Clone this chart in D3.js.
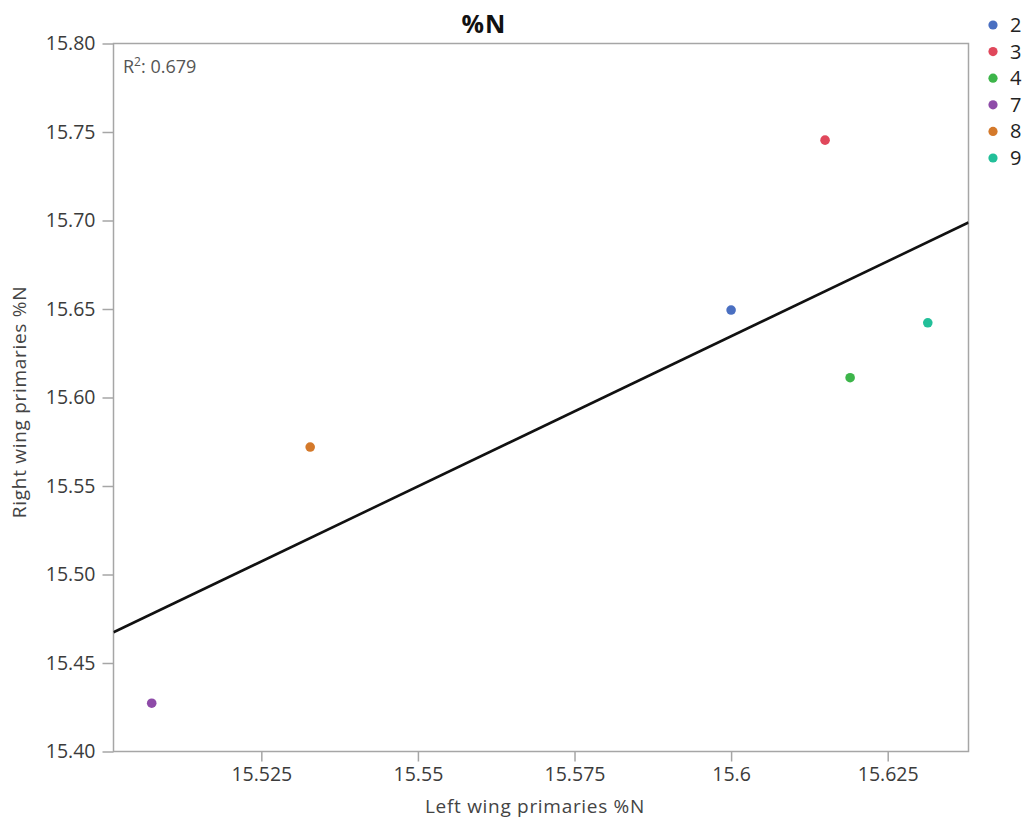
<!DOCTYPE html>
<html>
<head>
<meta charset="utf-8">
<script src="https://cdn.jsdelivr.net/npm/d3@7/dist/d3.min.js"></script>
<style>
  html, body { margin: 0; padding: 0; background: #fff; }
  svg { display: block; font-family: "Segoe UI", "Open Sans", "Noto Sans", sans-serif; }
</style>
</head>
<body>
<svg id="chart" width="1029" height="824"></svg>
<script>
// Bird IDs and paired %N measurements (left vs right wing primaries)
const birds = ["2", "3", "4", "7", "8", "9"];
const leftN = [15.600, 15.615, 15.619, 15.5075, 15.5328, 15.6314];
const rightN = [15.6494, 15.7454, 15.6112, 15.4273, 15.5720, 15.6422];
const birdColors = ["#4a6fc1", "#e0475b", "#3db54a", "#8e4ba8", "#d4792a", "#22bf99"];

const xTicks = [15.525, 15.55, 15.575, 15.6, 15.625];
const xTickLabels = ["15.525", "15.55", "15.575", "15.6", "15.625"];
const yTicks = [15.40, 15.45, 15.50, 15.55, 15.60, 15.65, 15.70, 15.75, 15.80];
const yTickLabels = ["15.40", "15.45", "15.50", "15.55", "15.60", "15.65", "15.70", "15.75", "15.80"];

const titleText = "%N";
const xTitle = "Left wing primaries %N";
const yTitle = "Right wing primaries %N";

const xDomain = [15.5014, 15.6379];
const yDomain = [15.40, 15.80];

const svg = d3.select("#chart");
const plot = { left: 113.5, right: 968.5, top: 43.5, bottom: 751.5 };

const x = d3.scaleLinear().domain(xDomain).range([plot.left, plot.right]);
const y = d3.scaleLinear().domain(yDomain).range([plot.bottom, plot.top]);
const color = d3.scaleOrdinal().domain(birds).range(birdColors);

const axisColor = "#a6a6a6";
const tickTextColor = "#3b3b3b";
const tickFont = 19.5;

// Plot frame
svg.append("rect")
  .attr("x", plot.left).attr("y", plot.top)
  .attr("width", plot.right - plot.left).attr("height", plot.bottom - plot.top)
  .attr("fill", "none").attr("stroke", axisColor).attr("stroke-width", 1.5);

// Y axis
const yAxis = svg.append("g")
  .attr("transform", `translate(${plot.left},0)`)
  .call(d3.axisLeft(y).tickValues(yTicks).tickSize(11).tickPadding(7)
    .tickFormat((d, i) => yTickLabels[i]));
yAxis.select(".domain").remove();
yAxis.selectAll(".tick line").attr("stroke", axisColor).attr("stroke-width", 1.5);
yAxis.selectAll(".tick text")
  .attr("fill", tickTextColor).attr("font-size", tickFont)
  .attr("font-family", "'Segoe UI', 'Open Sans', sans-serif");

// X axis
const xAxis = svg.append("g")
  .attr("transform", `translate(0,${plot.bottom})`)
  .call(d3.axisBottom(x).tickValues(xTicks).tickSize(10).tickPadding(6)
    .tickFormat((d, i) => xTickLabels[i]));
xAxis.select(".domain").remove();
xAxis.selectAll(".tick line").attr("stroke", axisColor).attr("stroke-width", 1.5);
xAxis.selectAll(".tick text")
  .attr("fill", tickTextColor).attr("font-size", tickFont)
  .attr("font-family", "'Segoe UI', 'Open Sans', sans-serif");

// Least-squares fit of right on left
const n = leftN.length;
const mx = d3.mean(leftN), my = d3.mean(rightN);
let sxy = 0, sxx = 0, syy = 0;
for (let i = 0; i < n; i++) {
  sxy += (leftN[i] - mx) * (rightN[i] - my);
  sxx += (leftN[i] - mx) ** 2;
  syy += (rightN[i] - my) ** 2;
}
const slope = sxy / sxx;
const intercept = my - slope * mx;
const r2 = (sxy * sxy) / (sxx * syy);

svg.append("defs").append("clipPath").attr("id", "plotClip")
  .append("rect")
  .attr("x", plot.left).attr("y", plot.top)
  .attr("width", plot.right - plot.left).attr("height", plot.bottom - plot.top);

const fitLine = d3.line().x(d => x(d)).y(d => y(intercept + slope * d));
svg.append("path")
  .datum(xDomain)
  .attr("d", fitLine)
  .attr("clip-path", "url(#plotClip)")
  .attr("fill", "none").attr("stroke", "#111").attr("stroke-width", 2.6);

// Points
svg.append("g").selectAll("circle")
  .data(birds)
  .join("circle")
  .attr("cx", (d, i) => x(leftN[i]))
  .attr("cy", (d, i) => y(rightN[i]))
  .attr("r", 4.8)
  .attr("fill", d => color(d));

// R² annotation
const r2Text = svg.append("text")
  .attr("x", 123).attr("y", 73)
  .attr("fill", "#555").attr("font-size", 18);
r2Text.append("tspan").text("R");
r2Text.append("tspan").attr("dy", -7).attr("font-size", 12).text("2");
r2Text.append("tspan").attr("dy", 7).text(": " + r2.toFixed(3));

// Title
svg.append("text")
  .attr("x", 484).attr("y", 33)
  .attr("text-anchor", "middle")
  .attr("font-size", 25).attr("font-weight", "bold").attr("fill", "#111")
  .attr("letter-spacing", 1)
  .text(titleText);

// Axis titles
svg.append("text")
  .attr("x", 535).attr("y", 813)
  .attr("text-anchor", "middle")
  .attr("font-size", 19).attr("letter-spacing", 0.7).attr("fill", "#444")
  .text(xTitle);

svg.append("text")
  .attr("transform", "translate(26,402) rotate(-90)")
  .attr("text-anchor", "middle")
  .attr("font-size", 19).attr("letter-spacing", 0.7).attr("fill", "#444")
  .text(yTitle);

// Legend
const legend = svg.append("g").selectAll("g")
  .data(birds)
  .join("g")
  .attr("transform", (d, i) => `translate(993,${25 + i * 26.6})`);
legend.append("circle").attr("r", 4.6).attr("fill", d => color(d));
legend.append("text")
  .attr("x", 17).attr("dy", "0.35em")
  .attr("font-size", 20).attr("fill", "#222")
  .text(d => d);
</script>
</body>
</html>
